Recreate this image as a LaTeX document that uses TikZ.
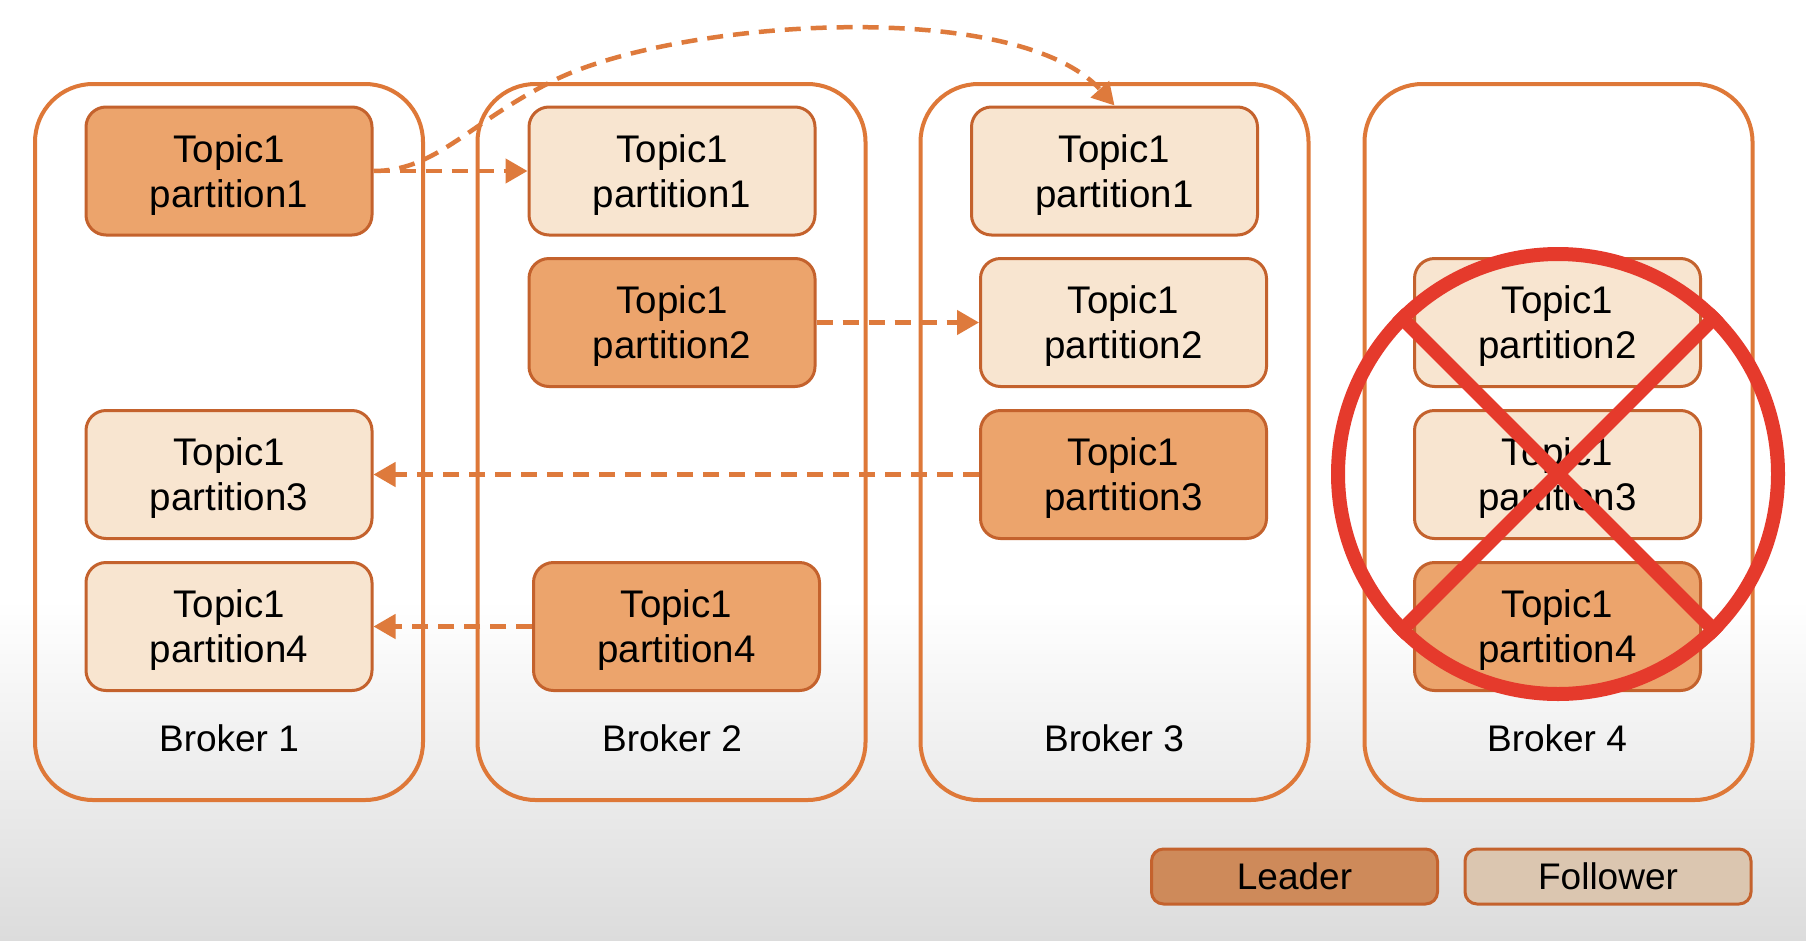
\documentclass[tikz,border=0pt]{standalone}
\usepackage{fontspec}
\setmainfont{Liberation Sans}
\usetikzlibrary{arrows.meta}

\definecolor{brokerc}{RGB}{222,120,56}
\definecolor{partc}{RGB}{196,98,45}
\definecolor{leadc}{RGB}{236,164,108}
\definecolor{follc}{RGB}{248,229,208}
\definecolor{legleadc}{RGB}{206,138,90}
\definecolor{legfollc}{RGB}{219,198,176}
\definecolor{linkc}{RGB}{222,122,60}
\definecolor{banc}{RGB}{229,58,44}
\definecolor{bgbot}{RGB}{220,220,220}

\begin{document}
\begin{tikzpicture}[x=1pt,y=-1pt,
  broker/.style={draw=brokerc, line width=4pt, rounded corners=58pt,
    minimum width=388pt, minimum height=716pt},
  part/.style={draw=partc, line width=3pt, rounded corners=20pt,
    minimum width=286pt, minimum height=128pt, align=center,
    text depth=0pt, font=\fontsize{38.5}{45}\selectfont},
  leader/.style={part, fill=leadc},
  follower/.style={part, fill=follc},
  legbox/.style={draw=partc, line width=3pt, rounded corners=12pt,
    minimum width=286pt, minimum height=55pt, font=\fontsize{37}{45}\selectfont},
  lbl/.style={font=\fontsize{37}{45}\selectfont},
  link/.style={draw=linkc, line width=4.5pt, dash pattern=on 16pt off 10pt,
    -{Triangle[length=22pt,width=24pt]}},
  ban/.style={draw=banc, line width=14pt}]

% background: white, fading to light grey at the bottom
\fill[white] (0,0) rectangle (1806,940);
\shade[top color=white, bottom color=bgbot] (0,600) rectangle (1806,940);
\useasboundingbox (0,0) rectangle (1806,940);

% brokers
\node[broker] (b1) at (229,442) {};
\node[broker] (b2) at (671.5,442) {};
\node[broker] (b3) at (1114.5,442) {};
\node[broker] (b4) at (1558.5,442) {};

\node[lbl] (l1) at (229,738) {Broker 1};
\node[lbl] (l2) at (672,738) {Broker 2};
\node[lbl] (l3) at (1114,738) {Broker 3};
\node[lbl] (l4) at (1557,738) {Broker 4};

% partitions
\node[leader]   (p11) at (229,171)    {Topic1\\partition1};
\node[follower] (p13) at (229,474.5)  {Topic1\\partition3};
\node[follower] (p14) at (229,626.5)  {Topic1\\partition4};

\node[follower] (p21) at (672,171)    {Topic1\\partition1};
\node[leader]   (p22) at (672,322.5)  {Topic1\\partition2};
\node[leader]   (p24) at (676.5,626.5){Topic1\\partition4};

\node[follower] (p31) at (1114.5,171) {Topic1\\partition1};
\node[follower] (p32) at (1123.5,322.5){Topic1\\partition2};
\node[leader]   (p33) at (1123.5,474.5){Topic1\\partition3};

\node[follower] (p42) at (1557.5,322.5){Topic1\\partition2};
\node[follower] (p43) at (1557.5,474.5){Topic1\\partition3};
\node[leader]   (p44) at (1557.5,626.5){Topic1\\partition4};

% replication links
\draw[link] (p11.east) -- (p21.west);
\draw[link] (p11.east) .. controls (435,171) and (467,125) .. (547,84)
  .. controls (665,20) and (1015,-5) .. (p31.north);
\draw[link] (p22.east) -- (p32.west);
\draw[link] (p33.west) -- (p13.east);
\draw[link] (p24.west) -- (p14.east);

% broker 4 is down
\node[circle, ban, minimum size=440pt, inner sep=0pt] (down) at (1558,474) {};
\draw[ban] (down.135) -- (down.-45);
\draw[ban] (down.45) -- (down.-135);

% legend
\node[legbox, fill=legleadc] (legl) at (1294.5,876.5) {Leader};
\node[legbox, fill=legfollc] (legf) at (1608,876.5) {Follower};
\end{tikzpicture}
\end{document}
